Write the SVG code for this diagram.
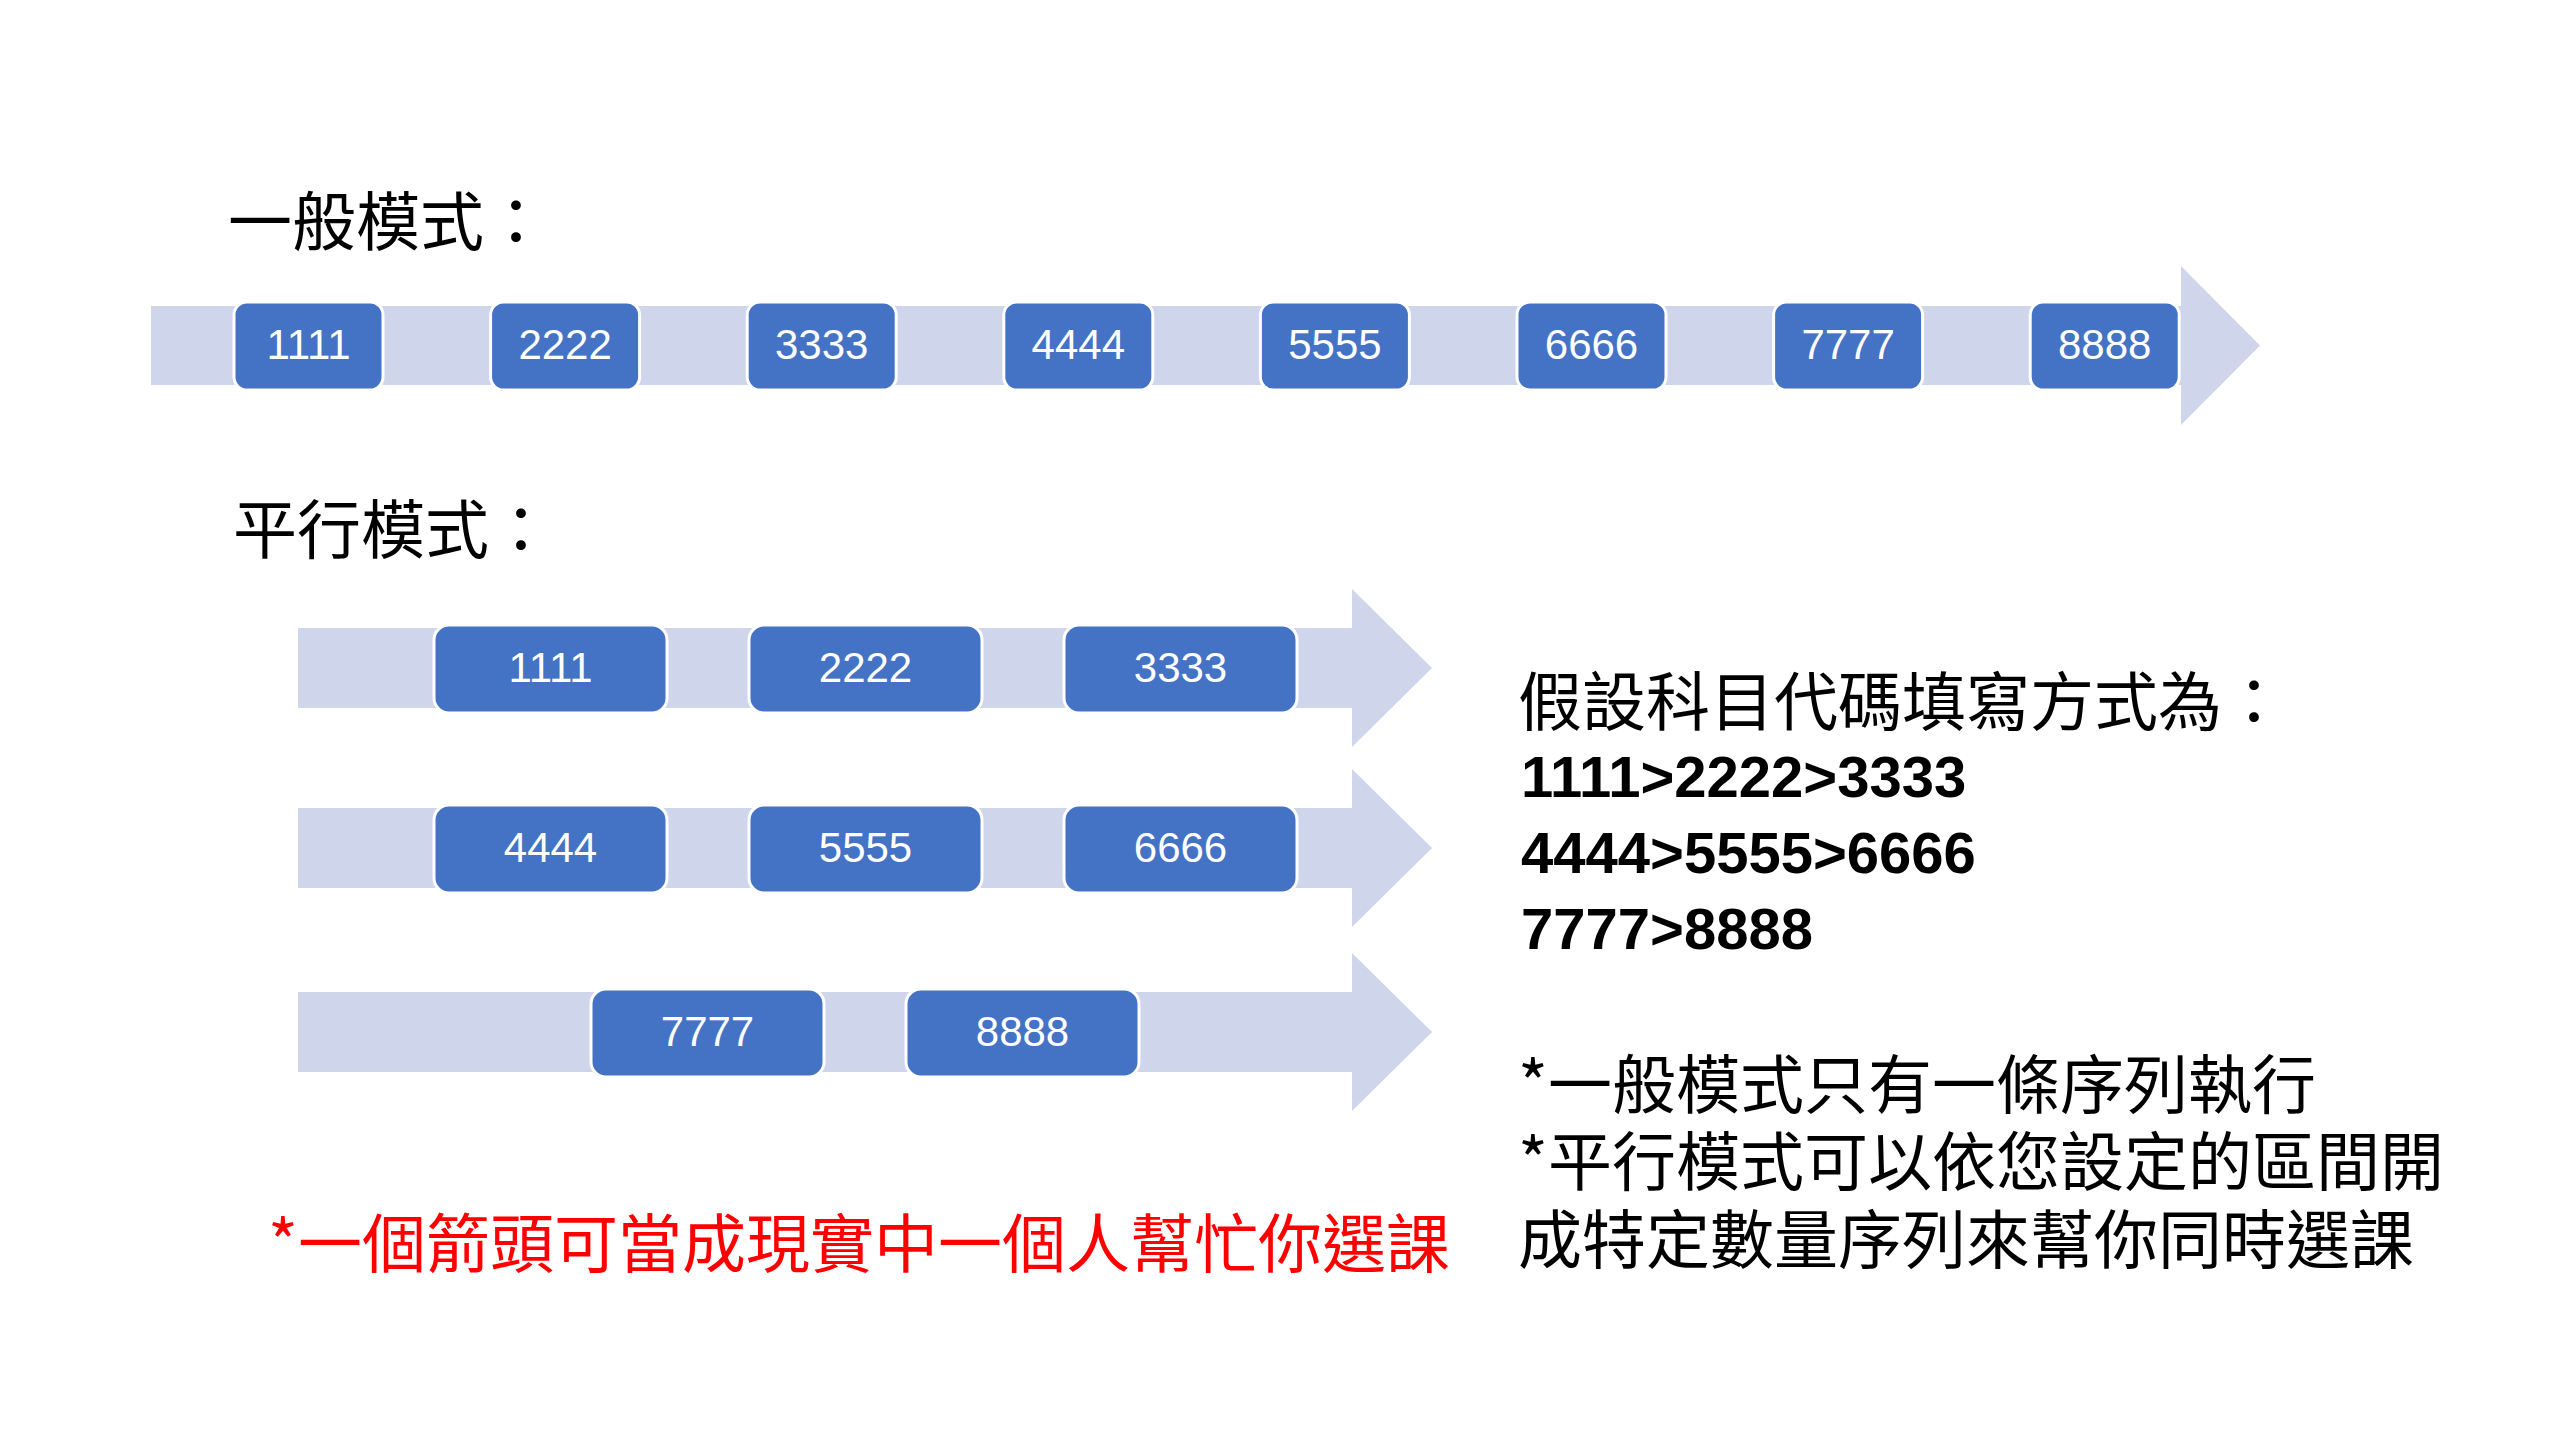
<svg xmlns="http://www.w3.org/2000/svg" width="2560" height="1440" viewBox="0 0 2560 1440">
<style>
.shaft{fill:#CFD5EA;}
.box{fill:#4472C4;stroke:#FFFFFF;stroke-width:3;}
.num{fill:#FFFFFF;font-family:"Liberation Sans",Arial,sans-serif;font-size:42px;text-anchor:middle;}
.cjk{fill:#000000;font-family:"Noto Sans CJK TC","Noto Sans CJK SC",sans-serif;font-size:64px;}
.bold{fill:#000000;font-family:"Liberation Sans",Arial,sans-serif;font-weight:bold;font-size:58px;}
.red{fill:#FF0000;}
</style>
<rect width="2560" height="1440" fill="#FFFFFF"/>

<g id="titles">
<text class="cjk" x="228" y="245">一般模式：</text>
<text class="cjk" x="233" y="553">平行模式：</text>
</g>

<g id="connectors">
<path class="shaft" d="M151,306 H2181 V266 L2260,345.5 L2181,425 V385 H151 Z"/>
<path class="shaft" d="M298,628 H1352 V589 L1432,668 L1352,747 V708 H298 Z"/>
<path class="shaft" d="M298,808 H1352 V769 L1432,848 L1352,927 V888 H298 Z"/>
<path class="shaft" d="M298,992 H1352 V953 L1432,1032 L1352,1111 V1072 H298 Z"/>
</g>

<g id="serial">
<g id="s1111"><rect class="box" x="234" y="302" width="149" height="88" rx="13"/><text class="num" x="308.5" y="359">1111</text></g>
<g id="s2222"><rect class="box" x="490.6" y="302" width="149" height="88" rx="13"/><text class="num" x="565.1" y="359">2222</text></g>
<g id="s3333"><rect class="box" x="747.2" y="302" width="149" height="88" rx="13"/><text class="num" x="821.7" y="359">3333</text></g>
<g id="s4444"><rect class="box" x="1003.8" y="302" width="149" height="88" rx="13"/><text class="num" x="1078.3" y="359">4444</text></g>
<g id="s5555"><rect class="box" x="1260.4" y="302" width="149" height="88" rx="13"/><text class="num" x="1334.9" y="359">5555</text></g>
<g id="s6666"><rect class="box" x="1517" y="302" width="149" height="88" rx="13"/><text class="num" x="1591.5" y="359">6666</text></g>
<g id="s7777"><rect class="box" x="1773.6" y="302" width="149" height="88" rx="13"/><text class="num" x="1848.1" y="359">7777</text></g>
<g id="s8888"><rect class="box" x="2030.2" y="302" width="149" height="88" rx="13"/><text class="num" x="2104.7" y="359">8888</text></g>
</g>

<g id="parallel">
<g id="p1111"><rect class="box" x="434" y="625" width="233" height="88" rx="15"/><text class="num" x="550.5" y="682">1111</text></g>
<g id="p2222"><rect class="box" x="749" y="625" width="233" height="88" rx="15"/><text class="num" x="865.5" y="682">2222</text></g>
<g id="p3333"><rect class="box" x="1064" y="625" width="233" height="88" rx="15"/><text class="num" x="1180.5" y="682">3333</text></g>
<g id="p4444"><rect class="box" x="434" y="805" width="233" height="88" rx="15"/><text class="num" x="550.5" y="862">4444</text></g>
<g id="p5555"><rect class="box" x="749" y="805" width="233" height="88" rx="15"/><text class="num" x="865.5" y="862">5555</text></g>
<g id="p6666"><rect class="box" x="1064" y="805" width="233" height="88" rx="15"/><text class="num" x="1180.5" y="862">6666</text></g>
<g id="p7777"><rect class="box" x="591" y="989" width="233" height="88" rx="15"/><text class="num" x="707.5" y="1046">7777</text></g>
<g id="p8888"><rect class="box" x="906" y="989" width="233" height="88" rx="15"/><text class="num" x="1022.5" y="1046">8888</text></g>
</g>

<g id="explanation">
<text class="cjk" x="1518" y="725">假設科目代碼填寫方式為：</text>
<text class="bold" x="1521" y="797">1111&gt;2222&gt;3333</text>
<text class="bold" x="1521" y="873">4444&gt;5555&gt;6666</text>
<text class="bold" x="1521" y="949">7777&gt;8888</text>
<text class="cjk" x="1518" y="1108">*一般模式只有一條序列執行</text>
<text class="cjk" x="1518" y="1185">*平行模式可以依您設定的區間開</text>
<text class="cjk" x="1518" y="1263">成特定數量序列來幫你同時選課</text>
</g>

<g id="note">
<text class="cjk red" x="268" y="1267">*一個箭頭可當成現實中一個人幫忙你選課</text>
</g>
</svg>
